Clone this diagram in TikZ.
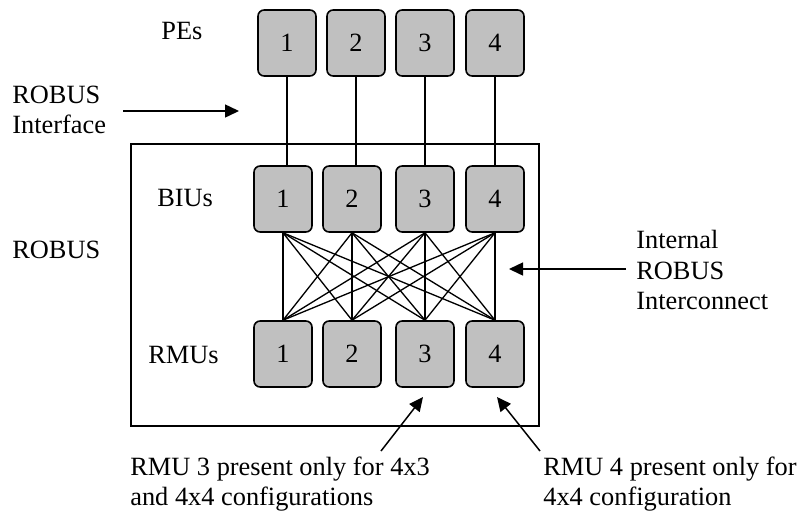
\documentclass[tikz,border=0pt]{standalone}
\usepackage{fontspec}
\setmainfont{Liberation Serif}
\usetikzlibrary{arrows.meta,positioning}
\definecolor{unitgray}{RGB}{192,192,192}

\tikzset{
  unit/.style={draw, line width=0.9pt, fill=unitgray, rounded corners=3.5pt,
    minimum width=1.16cm, minimum height=1.32cm, inner sep=0pt},
  lbl/.style={align=left, anchor=west, inner sep=0pt},
  wire/.style={line width=0.75pt},
  pointer/.style={line width=0.85pt, -{Triangle[length=0.28cm,width=0.26cm]}}
}

\begin{document}
\begin{tikzpicture}[x=0.2mm, y=-0.2mm, font=\fontsize{15}{17.5}\selectfont]

    \useasboundingbox (0,0) rectangle (802,517);

    % ROBUS box
    \draw[wire] (131,144) rectangle (539,426);

    % units
    \node[unit] (pe1) at (287,43) {1};
    \node[unit] (pe2) at (356,43) {2};
    \node[unit] (pe3) at (425,43) {3};
    \node[unit] (pe4) at (495,43) {4};

    \node[unit] (biu1) at (283,199) {1};
    \node[unit] (biu2) at (352,199) {2};
    \node[unit] (biu3) at (425,199) {3};
    \node[unit] (biu4) at (495,199) {4};

    \node[unit] (rmu1) at (283,354) {1};
    \node[unit] (rmu2) at (352,354) {2};
    \node[unit] (rmu3) at (425,354) {3};
    \node[unit] (rmu4) at (495,354) {4};

    % labels
    \node[lbl] (pes) at (161,31) {PEs};
    \node[lbl] (bius) at (157,198) {BIUs};
    \node[lbl] (rmus) at (148,355) {RMUs};
    \node[lbl] (robus) at (12,250) {ROBUS};
    \node[lbl] (iface) at (12,110) {ROBUS\\Interface};
    \node[lbl] (inter) at (636,270) {Internal\\ROBUS\\Interconnect};
    \node[lbl] (note3) at (130,484) {RMU 3 present only for 4x3\\and 4x4 configurations};
    \node[lbl] (note4) at (543,484) {RMU 4 present only for\\4x4 configuration};

    \coordinate (ifaceend) at (239,111);
    \coordinate (interend) at (509,269);
    \coordinate (tip3) at (423,397);
    \coordinate (tail3) at (381,451);
    \coordinate (tip4) at (497,397);
    \coordinate (tail4) at (540,451);

    % PE links
    \foreach \i in {1,...,4}
      \draw[wire] (pe\i.south) -- (pe\i.south |- biu\i.north);

    % crossbar
    \foreach \i in {1,...,4}
      \foreach \j in {1,...,4}
        \draw[wire] (biu\i.south) -- (rmu\j.north);

    % pointers
    \draw[pointer] (iface.east |- ifaceend) ++(17,0) -- (ifaceend);
    \draw[pointer] (inter.west |- interend) ++(-10,0) -- (interend);
    \draw[pointer] (tail3) -- (tip3);
    \draw[pointer] (tail4) -- (tip4);

\end{tikzpicture}
\end{document}
